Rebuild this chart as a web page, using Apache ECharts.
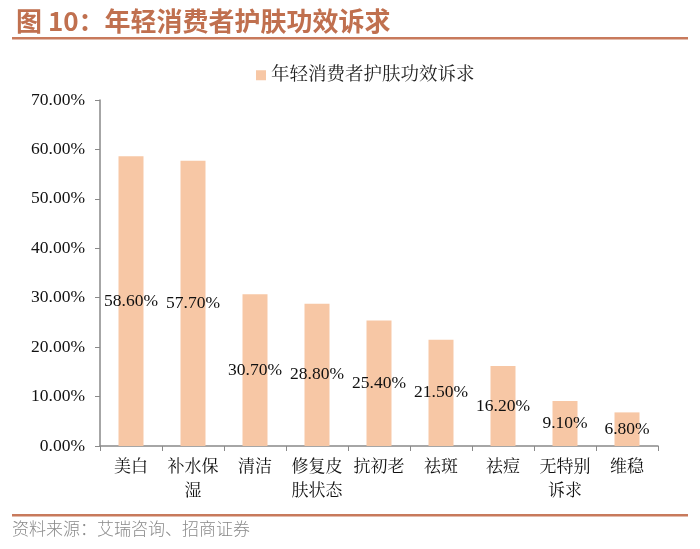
<!DOCTYPE html>
<html><head><meta charset="utf-8">
<script src="https://cdn.jsdelivr.net/npm/echarts@6/dist/echarts.min.js"></script>
<style>html,body{margin:0;padding:0;background:#fff}#c{width:700px;height:549px}</style>
</head><body><div id="c"></div>
<script>
const categories = ['美白','补水保\n湿','清洁','修复皮\n肤状态','抗初老','祛斑','祛痘','无特别\n诉求','维稳'];
const values = [58.6, 57.7, 30.7, 28.8, 25.4, 21.5, 16.2, 9.1, 6.8];
const seriesName = '年轻消费者护肤功效诉求';
const titleText = '图 10：年轻消费者护肤功效诉求';
const sourceText = '资料来源：艾瑞咨询、招商证券';

const serif = '"Liberation Serif","Times New Roman","Noto Serif CJK SC","Noto Sans CJK SC",serif';
const chart = echarts.init(document.getElementById('c'));
chart.setOption({
  animation: false,
  title: {
    text: titleText, left: 11, top: 3,
    textStyle: { color: '#C0704F', fontSize: 26, fontWeight: 'bold', fontFamily: '"Noto Sans CJK SC",sans-serif' }
  },
  graphic: [
    { type: 'rect', shape: { x: 12, y: 37, width: 676, height: 2.5 }, style: { fill: '#C87A5C' } },
    { type: 'rect', shape: { x: 12, y: 514, width: 676, height: 2.5 }, style: { fill: '#C87A5C' } },
    { type: 'text', left: 12, top: 520, style: { text: sourceText, fill: '#8a8a8a', fontSize: 17, fontFamily: '"Noto Sans CJK SC",sans-serif', fontWeight: 300 } }
  ],
  legend: {
    data: [seriesName], top: 61, left: 251, itemWidth: 10, itemHeight: 10, itemGap: 5,
    icon: 'rect',
    textStyle: { fontSize: 18.5, color: '#222', fontFamily: serif }
  },
  grid: { left: 100, right: 42, top: 100, bottom: 103 },
  xAxis: {
    type: 'category', data: categories,
    axisLine: { lineStyle: { color: '#898989', width: 1.5 } },
    axisTick: { show: true, alignWithLabel: false, length: 5, lineStyle: { color: '#898989' } },
    axisLabel: { fontSize: 17, color: '#111', fontFamily: serif, lineHeight: 24, margin: 10, interval: 0 }
  },
  yAxis: {
    type: 'value', min: 0, max: 70, interval: 10,
    axisLine: { show: true, lineStyle: { color: '#898989', width: 1.5 } },
    axisTick: { show: true, length: 5, lineStyle: { color: '#898989' } },
    splitLine: { show: false },
    axisLabel: { fontSize: 17.5, color: '#111', fontFamily: serif, margin: 15, formatter: v => v.toFixed(2) + '%' }
  },
  series: [{
    name: seriesName, type: 'bar', data: values, barWidth: 25,
    itemStyle: { color: '#F7C7A5' },
    label: { show: true, position: 'inside', color: '#111', fontSize: 17.5, fontFamily: serif,
      formatter: p => p.value.toFixed(2) + '%' }
  }]
});
</script></body></html>
